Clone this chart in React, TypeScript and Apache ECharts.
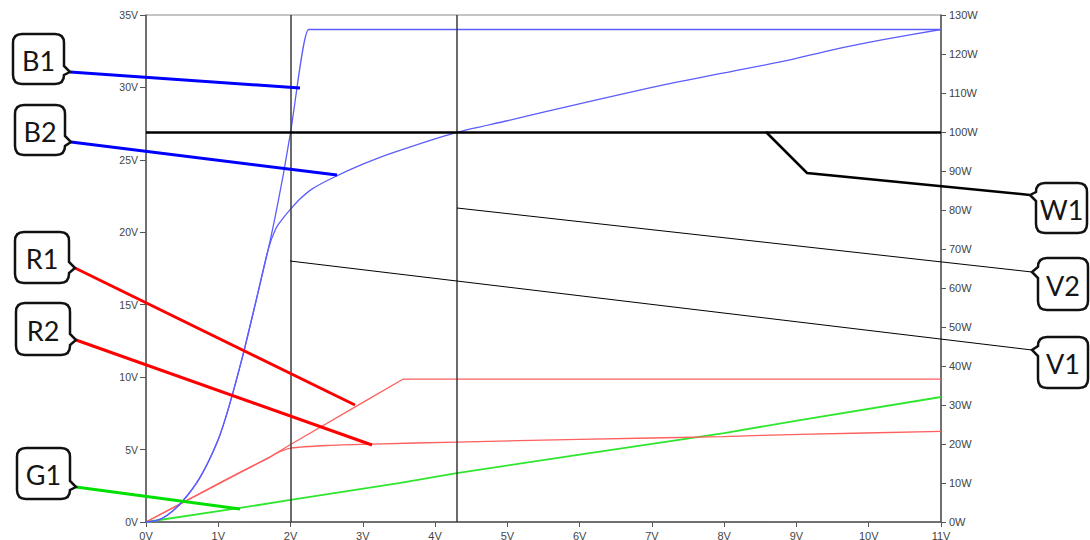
import React, { useEffect, useRef } from "react";
import * as echarts from "echarts";

// ---- data (x in volts) ----
const xTicks = [0, 1, 2, 3, 4, 5, 6, 7, 8, 9, 10, 11];
const leftTicksV = [0, 5, 10, 15, 20, 25, 30, 35];
const rightTicksW = [0, 10, 20, 30, 40, 50, 60, 70, 80, 90, 100, 110, 120, 130];

const B1: [number, number][] = [
  [0, 0], [0.15, 0.12], [0.29, 0.45], [0.5, 1.4], [0.75, 3.1], [1.0, 5.7], [1.15, 8.0], [1.34, 11.5],
  [1.51, 15.0], [1.69, 18.8], [1.8, 21.4], [1.9, 24.0], [2.0, 26.9], [2.25, 34], [2.3, 34], [11, 34],
];
const B2: [number, number][] = [
  [0, 0], [0.15, 0.12], [0.29, 0.45], [0.5, 1.4], [0.75, 3.1], [1.0, 5.7], [1.15, 8.0], [1.34, 11.5],
  [1.51, 15.0], [1.69, 18.8], [1.8, 20.3], [1.9, 21.0], [2.0, 21.6], [2.13, 22.3], [2.3, 23.0],
  [2.6, 23.8], [3.0, 24.7], [3.42, 25.5], [4.3, 26.9], [5.0, 27.7], [5.59, 28.4], [7.0, 30.0],
  [8.0, 31.0], [8.91, 31.9], [9.5, 32.6], [10.2, 33.3], [11, 34],
];
const R1: [number, number][] = [
  [0, 0], [1.72, 4.5], [2.0, 5.35], [3.05, 8.4], [3.56, 9.87], [11, 9.87],
];
const R2: [number, number][] = [
  [0, 0], [1.0, 2.65], [1.72, 4.5], [1.85, 4.85], [2.0, 5.1], [2.5, 5.28], [3.14, 5.38],
  [4.3, 5.52], [6.0, 5.7], [7.98, 5.9], [9.05, 6.05], [11, 6.25],
];
const G1: [number, number][] = [
  [0, 0], [1.3, 0.97], [2.0, 1.52], [3.5, 2.69], [4.3, 3.38], [6.0, 4.65], [8.0, 6.14],
  [9.05, 7.04], [11, 8.63],
];
const cursorVolts = [2.0, 4.3];
const powerLimitW = [100];

let bubbleRegistered = false;
function registerBubble() {
  if (bubbleRegistered) return;
  bubbleRegistered = true;
  const Bubble = echarts.graphic.extendShape({
    shape: { x: 0, y: 0, w: 0, h: 0, r: 8, side: "right", py: 0 },
    buildPath(ctx: any, s: any) {
      const { x, y, w, h, r, side } = s;
      const py = s.py;
      ctx.moveTo(x + r, y);
      ctx.lineTo(x + w - r, y);
      ctx.quadraticCurveTo(x + w, y, x + w, y + r);
      if (side === "right") {
        ctx.lineTo(x + w, Math.max(y + r, py - 6));
        ctx.lineTo(x + w + 6, py);
        ctx.lineTo(x + w, Math.min(y + h - r, py + 5));
      }
      ctx.lineTo(x + w, y + h - r);
      ctx.quadraticCurveTo(x + w, y + h, x + w - r, y + h);
      ctx.lineTo(x + r, y + h);
      ctx.quadraticCurveTo(x, y + h, x, y + h - r);
      if (side === "left") {
        ctx.lineTo(x, Math.min(y + h - r, py + 6));
        ctx.lineTo(x - 6, py);
        ctx.lineTo(x, Math.max(y + r, py - 5));
      }
      ctx.lineTo(x, y + r);
      ctx.quadraticCurveTo(x, y, x + r, y);
      ctx.closePath();
    },
  });
  echarts.graphic.registerShape("bubble", Bubble);
}

type Callout = {
  label: string; x: number; y: number; w: number; h: number; side: "left" | "right";
  py: number; pts: number[][]; color: string; lw: number;
};

const callouts: Callout[] = [
  { label: "B1", x: 13, y: 34, w: 51, h: 50, side: "right", py: 72, pts: [[300, 88]], color: "#0000ff", lw: 3 },
  { label: "B2", x: 15, y: 105, w: 50, h: 50, side: "right", py: 142, pts: [[337, 175]], color: "#0000ff", lw: 3 },
  { label: "R1", x: 15, y: 232, w: 54, h: 51, side: "right", py: 268, pts: [[355, 405]], color: "#ff0000", lw: 3 },
  { label: "R2", x: 16, y: 303, w: 54, h: 52, side: "right", py: 340, pts: [[372, 445]], color: "#ff0000", lw: 3 },
  { label: "G1", x: 17, y: 448, w: 53, h: 51, side: "right", py: 487, pts: [[240, 509]], color: "#00e000", lw: 3 },
  { label: "W1", x: 1036, y: 183, w: 51, h: 50, side: "left", py: 195, pts: [[807, 173], [766, 132]], color: "#000000", lw: 2.5 },
  { label: "V2", x: 1038, y: 258, w: 50, h: 52, side: "left", py: 272, pts: [[457, 208]], color: "#000000", lw: 1 },
  { label: "V1", x: 1038, y: 337, w: 50, h: 51, side: "left", py: 350, pts: [[290, 261]], color: "#000000", lw: 1 },
];

export default function App() {
  const ref = useRef<HTMLDivElement>(null);
  useEffect(() => {
    if (!ref.current) return;
    registerBubble();
    const chart = echarts.init(ref.current, undefined, { renderer: "svg" });

    const graphics: any[] = [];
    callouts.forEach((c) => {
      const tipX = c.side === "right" ? c.x + c.w + 6 : c.x - 6;
      const points = [[tipX, c.py], ...c.pts];
      graphics.push({
        type: "polyline",
        z: 100,
        shape: { points },
        style: { stroke: c.color, lineWidth: c.lw, fill: null },
      });
      graphics.push({
        type: "bubble",
        z: 101,
        shape: { x: c.x, y: c.y, w: c.w, h: c.h, r: 9, side: c.side, py: c.py },
        style: { fill: "#ffffff", stroke: "#111111", lineWidth: 2.5 },
      });
      graphics.push({
        type: "text",
        z: 102,
        x: c.x + c.w / 2,
        y: c.y + c.h / 2 + 1,
        style: {
          text: c.label,
          fontFamily: "Lato, 'Noto Sans', sans-serif",
          fontSize: 27,
          fill: "#151515",
          align: "center",
          verticalAlign: "middle",
        },
      });
    });

    const lineSeries = (name: string, data: [number, number][], color: string, width: number, smooth: number) => ({
      name,
      type: "line",
      data,
      showSymbol: false,
      symbol: "none",
      smooth,
      lineStyle: { color, width },
      z: 3,
    });

    const axisLabelStyle = {
      fontFamily: "'Liberation Sans', Arial, sans-serif",
      fontSize: 11,
      color: "#444",
    };

    chart.setOption({
      animation: false,
      backgroundColor: "#ffffff",
      grid: {
        left: 146, right: 149, top: 15, bottom: 18,
        show: true, borderColor: "#8a8a8a", borderWidth: 1,
        containLabel: false, outerBoundsMode: "none",
      },
      xAxis: {
        type: "value", min: xTicks[0], max: xTicks[xTicks.length - 1], interval: 1,
        axisLine: { show: true, lineStyle: { color: "#555", width: 1.5 } },
        axisTick: { show: true, length: 5, lineStyle: { color: "#555" } },
        axisLabel: { ...axisLabelStyle, margin: 8, formatter: "{value}V", showMinLabel: true, showMaxLabel: true },
        splitLine: { show: false },
      },
      yAxis: [
        {
          type: "value", position: "left", min: leftTicksV[0], max: leftTicksV[leftTicksV.length - 1], interval: 5,
          axisLine: { show: true, lineStyle: { color: "#555", width: 1.5 } },
          axisTick: { show: true, length: 6, lineStyle: { color: "#555" } },
          axisLabel: { ...axisLabelStyle, fontSize: 10.5, margin: 8, formatter: "{value}V", showMinLabel: true, showMaxLabel: true },
          splitLine: { show: false },
        },
        {
          type: "value", position: "right", min: rightTicksW[0], max: rightTicksW[rightTicksW.length - 1], interval: 10,
          axisLine: { show: true, lineStyle: { color: "#555", width: 1.5 } },
          axisTick: { show: true, length: 5, lineStyle: { color: "#555" } },
          axisLabel: { ...axisLabelStyle, margin: 8, formatter: "{value}W", showMinLabel: true, showMaxLabel: true },
          splitLine: { show: false },
        },
      ],
      series: [
        {
          name: "cursors",
          type: "line",
          data: [],
          markLine: {
            silent: true, symbol: "none", label: { show: false },
            lineStyle: { type: "solid", color: "#3a3a3a", width: 1.5 },
            data: cursorVolts.map((v) => ({ xAxis: v })),
          },
        },
        {
          name: "W1",
          type: "line",
          yAxisIndex: 1,
          data: [],
          markLine: {
            silent: true, symbol: "none", label: { show: false },
            lineStyle: { type: "solid", color: "#000", width: 2.5 },
            data: powerLimitW.map((w) => ({ yAxis: w })),
          },
        },
        lineSeries("G1", G1, "#2ee62e", 1.8, 0),
        lineSeries("R2", R2, "#ff5f5f", 1.3, 0.25),
        lineSeries("R1", R1, "#ff5f5f", 1.3, 0),
        lineSeries("B2", B2, "#5c5cff", 1.3, 0.25),
        lineSeries("B1", B1, "#5c5cff", 1.3, 0.25),
      ],
      graphic: graphics,
    });
    return () => chart.dispose();
  }, []);
  return (
    <div
      ref={ref}
      style={{ position: "fixed", left: 0, top: 0, width: 1090, height: 540, background: "#fff" }}
    />
  );
}
